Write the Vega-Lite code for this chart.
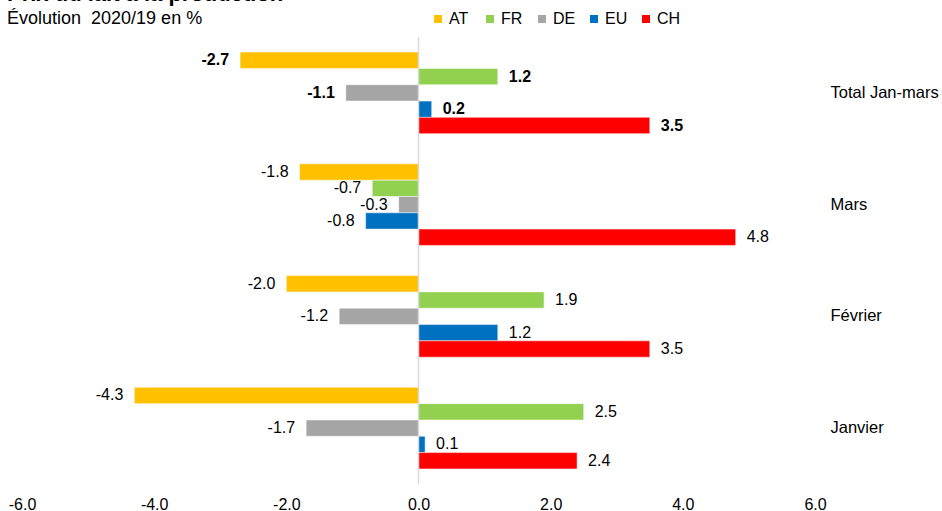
{
  "$schema": "https://vega.github.io/schema/vega-lite/v6.json",
  "width": 793,
  "height": 447,
  "autosize": {"type": "none"},
  "padding": {"left": 22, "top": 37, "right": 127, "bottom": 27},
  "title": {
    "text": "Prix du lait à la production",
    "subtitle": "Évolution\u00a0 2020/19 en %",
    "anchor": "start",
    "frame": "group",
    "dx": -15,
    "offset": -17.5,
    "font": "Liberation Sans",
    "fontSize": 22,
    "fontWeight": "bold",
    "color": "#000000",
    "subtitleFont": "Liberation Sans",
    "subtitleFontSize": 18,
    "subtitleColor": "#000000",
    "subtitlePadding": 3.5
  },
  "config": {
    "view": {"stroke": null},
    "font": "Liberation Sans",
    "locale": {"number": {"decimal": ".", "thousands": ",", "grouping": [3], "currency": ["", ""], "minus": "-"}}
  },
  "data": {
    "values": [
      {"periode": "Total Jan-mars", "pays": "AT", "valeur": -2.7},
      {"periode": "Total Jan-mars", "pays": "FR", "valeur": 1.2},
      {"periode": "Total Jan-mars", "pays": "DE", "valeur": -1.1},
      {"periode": "Total Jan-mars", "pays": "EU", "valeur": 0.2},
      {"periode": "Total Jan-mars", "pays": "CH", "valeur": 3.5},
      {"periode": "Mars", "pays": "AT", "valeur": -1.8},
      {"periode": "Mars", "pays": "FR", "valeur": -0.7},
      {"periode": "Mars", "pays": "DE", "valeur": -0.3},
      {"periode": "Mars", "pays": "EU", "valeur": -0.8},
      {"periode": "Mars", "pays": "CH", "valeur": 4.8},
      {"periode": "Février", "pays": "AT", "valeur": -2.0},
      {"periode": "Février", "pays": "FR", "valeur": 1.9},
      {"periode": "Février", "pays": "DE", "valeur": -1.2},
      {"periode": "Février", "pays": "EU", "valeur": 1.2},
      {"periode": "Février", "pays": "CH", "valeur": 3.5},
      {"periode": "Janvier", "pays": "AT", "valeur": -4.3},
      {"periode": "Janvier", "pays": "FR", "valeur": 2.5},
      {"periode": "Janvier", "pays": "DE", "valeur": -1.7},
      {"periode": "Janvier", "pays": "EU", "valeur": 0.1},
      {"periode": "Janvier", "pays": "CH", "valeur": 2.4}
    ]
  },
  "layer": [
    {
      "mark": {"type": "bar", "stroke": "#ffffff", "strokeWidth": 0.5},
      "encoding": {
        "y": {
          "field": "periode", "type": "nominal",
          "sort": ["Total Jan-mars", "Mars", "Février", "Janvier"],
          "scale": {"paddingInner": 0.27, "paddingOuter": 0.135},
          "axis": {"orient": "right", "title": null, "domain": false, "ticks": false, "labelPadding": 15, "labelFontSize": 16.5, "labelColor": "#000000", "labelFont": "Liberation Sans", "labelAlign": "left"}
        },
        "yOffset": {"field": "pays", "type": "nominal", "sort": ["AT", "FR", "DE", "EU", "CH"], "scale": {"paddingInner": 0, "paddingOuter": 0}},
        "x": {
          "field": "valeur", "type": "quantitative",
          "scale": {"domain": [-6, 6], "nice": false, "zero": false},
          "axis": {"title": null, "values": [-6, -4, -2, 0, 2, 4, 6], "format": ".1f", "grid": false, "domain": false, "ticks": false, "labelPadding": 12, "labelFontSize": 16, "labelColor": "#000000", "labelFont": "Liberation Sans", "labelFlush": false, "labelOverlap": false}
        },
        "color": {
          "field": "pays", "type": "nominal",
          "scale": {"domain": ["AT", "FR", "DE", "EU", "CH"], "range": ["#FFC000", "#92D050", "#A5A5A5", "#0070C0", "#FF0000"]},
          "legend": {"orient": "none", "legendX": 408, "legendY": -26, "direction": "horizontal", "title": null, "symbolType": "square", "symbolSize": 64, "symbolStrokeWidth": 0, "labelFontSize": 16, "labelFont": "Liberation Sans", "labelColor": "#000000", "labelOffset": 3, "columnPadding": 9, "gridAlign": "all", "padding": 0}
        }
      }
    },
    {
      "data": {"values": [{"zero": 0}]},
      "mark": {"type": "rule", "color": "#D9D9D9", "strokeWidth": 1.5},
      "encoding": {"x": {"field": "zero", "type": "quantitative"}}
    },
    {
      "transform": [{"filter": "datum.periode === 'Total Jan-mars' && datum.valeur < 0"}],
      "mark": {"type": "text", "align": "right", "dx": -11, "fontWeight": "bold", "fontSize": 16, "font": "Liberation Sans", "color": "#000000"},
      "encoding": {
        "y": {"field": "periode", "type": "nominal", "sort": ["Total Jan-mars", "Mars", "Février", "Janvier"]},
        "yOffset": {"field": "pays", "type": "nominal", "sort": ["AT", "FR", "DE", "EU", "CH"]},
        "x": {"field": "valeur", "type": "quantitative"},
        "text": {"field": "valeur", "type": "quantitative", "format": ".1f"}
      }
    },
    {
      "transform": [{"filter": "datum.periode === 'Total Jan-mars' && datum.valeur >= 0"}],
      "mark": {"type": "text", "align": "left", "dx": 11, "fontWeight": "bold", "fontSize": 16, "font": "Liberation Sans", "color": "#000000"},
      "encoding": {
        "y": {"field": "periode", "type": "nominal", "sort": ["Total Jan-mars", "Mars", "Février", "Janvier"]},
        "yOffset": {"field": "pays", "type": "nominal", "sort": ["AT", "FR", "DE", "EU", "CH"]},
        "x": {"field": "valeur", "type": "quantitative"},
        "text": {"field": "valeur", "type": "quantitative", "format": ".1f"}
      }
    },
    {
      "transform": [{"filter": "datum.periode !== 'Total Jan-mars' && datum.valeur < 0"}],
      "mark": {"type": "text", "align": "right", "dx": -11, "fontSize": 16, "font": "Liberation Sans", "color": "#000000"},
      "encoding": {
        "y": {"field": "periode", "type": "nominal", "sort": ["Total Jan-mars", "Mars", "Février", "Janvier"]},
        "yOffset": {"field": "pays", "type": "nominal", "sort": ["AT", "FR", "DE", "EU", "CH"]},
        "x": {"field": "valeur", "type": "quantitative"},
        "text": {"field": "valeur", "type": "quantitative", "format": ".1f"}
      }
    },
    {
      "transform": [{"filter": "datum.periode !== 'Total Jan-mars' && datum.valeur >= 0"}],
      "mark": {"type": "text", "align": "left", "dx": 11, "fontSize": 16, "font": "Liberation Sans", "color": "#000000"},
      "encoding": {
        "y": {"field": "periode", "type": "nominal", "sort": ["Total Jan-mars", "Mars", "Février", "Janvier"]},
        "yOffset": {"field": "pays", "type": "nominal", "sort": ["AT", "FR", "DE", "EU", "CH"]},
        "x": {"field": "valeur", "type": "quantitative"},
        "text": {"field": "valeur", "type": "quantitative", "format": ".1f"}
      }
    }
  ]
}
